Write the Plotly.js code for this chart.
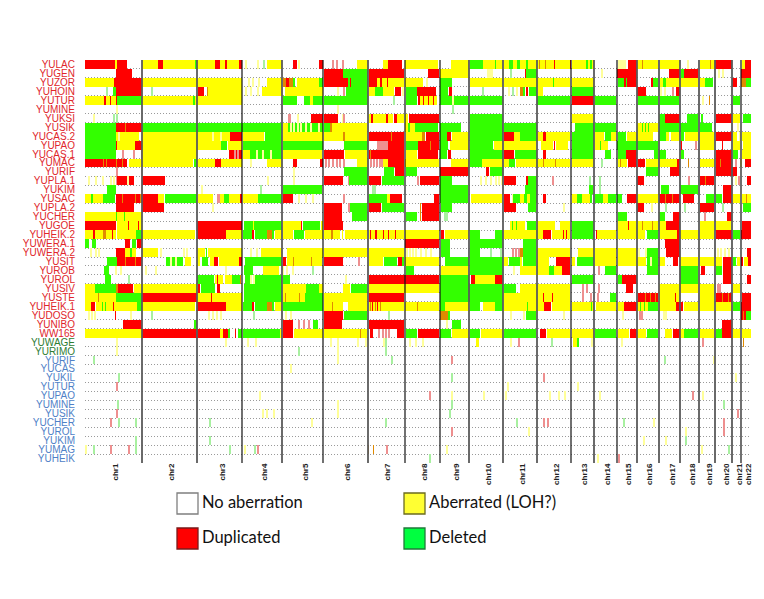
<!DOCTYPE html>
<html><head><meta charset="utf-8">
<script src="https://cdn.plot.ly/plotly-3.0.1.min.js"></script>
<style>html,body{margin:0;padding:0;background:#fff}</style></head>
<body><div id="chart" style="width:764px;height:599px"></div>
<script>
// Samples, top to bottom
const sampleNames = ["YULAC","YUGEN","YUZOR","YUHOIN","YUTUR","YUMINE","YUKSI","YUSIK","YUCAS.2","YUPAO","YUCAS.1","YUMAC","YURIF","YUPLA.1","YUKIM","YUSAC","YUPLA.2","YUCHER","YUGOE","YUHEIK.2","YUWERA.1","YUWERA.2","YUSIT","YUROB","YUROL","YUSIV","YUSTE","YUHEIK.1","YUDOSO","YUNIBO","WW165","YUWAGE","YURIMO","YURIF","YUCAS","YUKIL","YUTUR","YUPAO","YUMINE","YUSIK","YUCHER","YUROL","YUKIM","YUMAG","YUHEIK"];
const groupSizes = [31, 2, 12];
const groupColors = ["#E0262B", "#2E7D32", "#4F81C7"];
// Chromosomes, on a relative genome scale running from 85 to 751
const chrNames = ["chr1","chr2","chr3","chr4","chr5","chr6","chr7","chr8","chr9","chr10","chr11","chr12","chr13","chr14","chr15","chr16","chr17","chr18","chr19","chr20","chr21","chr22"];
const chrCenters = [115,171,222,264,305,347,387,424,456,488,522,556,584,607,628,649,672,692,709,726,739,748];
const chrEndsDark = [242,323,405,440,571,617,741];
const chrEndsGrey = [142,197,282,368,469,503,537,594,637,659,680,699,715,732];
// Called segments per sample: Y aberrated, R duplicated, G deleted, O mixed; lower case = faint narrow call
const calls = [
"R85-115 Y115-117 R117-127 Y142-158 R158-163 Y163-195 G195-197 Y197-215 R215-220 Y220-225 R225-227 Y227-239 R239-242 y245 y257 g263 Y267-282 R293-297 y298 R319-323 r332 r336 r342 Y357-368 Y383-388 R388-402 Y405-438 Y451-469 G470-483 Y483-503 G495 Y504-509 G509-513 Y513-517 G517-520 Y520-526 G526-528 Y528-537 Y537-570 O539 O545 R554 R570 Y572-594 G586-588 G590-592 y618 y620 y622 y624 R628-637 Y637-658 O642 Y660-680 y687 Y700-715 O710 R715-732 Y742-745 R745-751",
"R116-132 R324-343 G343-368 R369-404 R428-439 Y440-469 y487 y489 y491 g510 R525 G526-537 y601 R617-637 R669-680 G681-684 R684-698 y718 y722 R741-751",
"Y85-114 R114-142 Y142-242 y248 y252 y258 Y267-282 O283-286 R286-289 O289-293 G293-295 Y297-319 G319-323 R324-348 G348-368 R350 R369-377 Y377-380 R380-382 Y382-387 R387 Y388-404 Y405-423 y426 G440-452 Y470-503 Y504-570 G553 Y572-594 G618-624 R624-637 G626 R651-653 G653-658 Y660-680 G663-666 Y680-698 Y700-705 G705-713 R732-737 O741-746 G746-751",
"g106 G113-116 R116-142 g151 R198-204 O207 Y208-242 y245 y250 y257 Y262-282 Y285-323 y337 r343 G346-368 Y369-375 G375-383 Y383-394 R395-401 y402 G406-417 R417-436 G440-448 R449-452 g482 y508 g512 y516 O520-523 G523-525 R526-528 G529-537 Y538-543 G572-594 R637-646 y660 y664 r672 R676-680",
"Y85-104 R104-106 Y106-110 R110 Y111-116 R116 G117-142 Y142-193 G193-195 Y195-242 G283-297 G304-310 Y310-313 G313-323 G324-368 g393 G406-417 R418-420 Y420-437 R423 R428 R433 G440-469 y452 G470-503 G537-570 R572-594 G595-616 G638-658 G660-679 y702 O709 G733-740",
"y116 y337 g452",
"y93 g113 g116 r288 r289 y297 R311-323 R324-338 y342 r343 Y369-371 R371-373 Y373-386 R386-388 Y388-393 R394-397 Y397-404 Y405-408 R409-439 G470-503 Y572-593 G659-665 R665-680 G687-698 G701-703 R716-732 Y733-740 G743-751",
"G85-116 R116-142 O125 G142-282 Y283-288 G288-323 y290 y293 y297 y300 y305 y310 y318 G324-330 O330-332 Y332-336 Y336-367 Y405-408 G408-438 Y410-415 G440-461 G470-503 G504-537 G575-594 G595-616 Y637-652 G642 G645 G648 Y652-658 G659-679 G680-698 G700-712 y737",
"G85-116 Y116-139 y118 Y142-197 Y197-230 R230-242 y212 y220 Y243-264 G265-282 Y283-323 Y324-343 O343-345 Y345-367 R369-391 O391 R392-404 Y406-422 O422-425 R426-439 G440-447 R447-451 Y452-469 G470-503 R504-514 Y514-520 G520-537 Y537-543 R543-546 Y546-570 G572-594 Y595-604 G605-611 Y611-616 G618-626 Y627-637 Y637-653 G659-666 Y666-669 Y671-680 G681-684 Y685-698 Y700-714 R716-732 Y733-737 y739 Y742-751",
"G85-116 R116 Y117-135 R135-142 Y142-221 G221-227 Y228-242 G243-282 G283-323 G344-368 r377 r379 r381 r383 r385 r387 R388-404 G406-418 R418-439 O430 G440-448 Y450-469 G470-493 Y494-503 Y504-536 Y541-553 R554 Y556-568 G572-594 Y595-600 G600 Y601-608 G617-658 R681 r695 Y700-714 R722 Y733-740 Y743-751",
"G85-116 r122 r133 r141 Y142-197 R229-242 r234 r237 Y243-250 G250-282 y256 y262 y270 Y283-322 R324-344 Y345-367 R369-404 O370 Y406-417 R418-438 G440-447 R448-451 G470-503 R504-514 G515-537 R543-546 G572-594 G605-611 G618-626 R626-637 G654-658 G659-666 G681-684 R716-732 G733-738 Y742-751",
"R85-127 O103 O106 O116 O122 Y129-142 Y142-193 G194-197 Y197-215 R215-221 Y221-242 y250 Y267-282 R293-297 R320-323 r325 r328 r332 r336 r339 r343 Y357-368 r370 r373 r376 r379 r381 Y383-388 R388-404 Y405-439 Y451-469 G470-482 Y482-503 Y504-509 G509-515 Y516-537 Y537-570 O543 O555 Y572-594 g601 Y618-627 O620 R628-637 R638-645 Y646-658 Y659-677 R677-680 O688 Y700-714 R716-732 O720 r735 y740 R745-751",
"r116 y293 G344-368 G384-394 R395-404 G406-417 R440-469 R486-489 G490-503 G646-658 R670-680 R716-737",
"y88 y95 y102 y110 y113 r116 R117-134 y127 R142-165 y267 y293 R324-343 r348 G349-368 R369-381 G382-404 r417 R420-439 G440-452 y480 y485 y490 y495 y498 y501 R504-516 R526-528 G528-537 r552 g589 g599 R637-644 r688 R700-714 O705 y735 r738 R747-751",
"G107-116 y201 g260 G283-322 g372 g374 G440-468 G525-537 G589-593 g599 G661-669 G680-698 R723-732",
"Y85-91 G91-93 Y93-103 G103-115 R116-142 O122 O135 O140 R142-158 Y158-164 G165-197 Y198-213 r217 r219 Y220-224 G224-229 Y229-240 R240-242 Y243-258 G258-282 R283-293 y298 y305 y312 r343 G369-387 Y387-390 R390-402 R434-439 G440-468 Y471-502 R504-510 y512 G513-520 Y520-524 G524-527 Y527-530 G530-537 R543-546 Y572-577 G577-582 Y582-590 G590-592 G595-603 Y603-608 G608-616 G617-622 R627-637 Y637-658 R659-680 O665 O672 R683-694 G706-714 G716-722 R723-732 Y733-740 Y742-751 O746",
"R116-134 R142-164 y212 R324-342 r348 G350-367 R369-381 G382-404 O420 R422-439 G441-452 R504-516 G528-536 y563 R637-644 y651 g665 g684 R700-714 g722 G743-751",
"Y85-142 G116 G124 R324-342 G352-367 G406-417 O420 R422-439 g444 g446 G618-627 G659-665 R673-680 r704 R727-732",
"R85-116 Y117-142 R128 R138 R197-242 G244-282 Y253 Y283-302 R301 G303-320 Y321-323 R324-343 Y510-525 G512 G516 G527-536 Y537-555 Y560-570 G572-594 Y618-637 R628 Y637-658 O642 O652 Y659-666 R666-680 Y700-714 Y716-731 R742-751",
"Y85-93 R93-95 Y95-103 O103-106 Y106-112 R112 Y113-116 Y117-136 G136-142 Y142-195 R197-226 Y226-242 G243-252 R252-254 G255-267 O267-272 G272-274 Y275-282 Y283-293 G294-304 Y305-323 Y324-331 O331-333 Y333-340 Y342 Y345-367 Y369-404 R370 R375-377 R383 R388 R395 Y405-439 R441-444 Y445-469 G470-480 G495-503 Y504-537 Y537-543 R543-551 Y552-570 R563 R566 G572-594 R596 Y597-616 Y618-637 Y637-645 G647-658 Y660-677 R677-680 Y680-698 Y700-714 R716-732 G733-740 R741-751",
"G85-89 G92-96 R125-130 G132-136 R137-142 R405-439 G441-450 G470-503 G523-536 R665-680",
"y90 y95 y98 R116-125 Y125-130 G130-132 Y132-136 Y142-158 y160 y183 y186 Y197-205 G206 Y208-242 y250 y256 Y261-282 Y287-323 Y324-367 Y369-404 y406 y409 y412 y415 y420 y425 y430 G441-450 G470-480 g490 g500 r512 r515 r518 O520-523 G523-536 Y537-570 Y578-594 Y595-616 Y618-637 y638 y645 G647-658 R666-680 y717 y720 y724 y728 R747-751",
"G107-117 R117-142 O125 O135 G166-183 y170 y175 Y185-191 Y197-200 G202-208 Y210-214 R214-218 Y219-239 R239-242 G245-282 R283-286 Y287-322 O293 O311 R324-343 r358 Y369-383 G384-397 R398-402 G402-404 Y405-439 G445-469 G470-503 Y504-508 G509-520 Y520-522 G523-536 Y537-549 R556-570 Y572-575 G577-594 Y595-616 Y618-637 Y637-646 G647-658 y650 Y659-665 R673-678 Y680-698 Y700-714 Y716-722 R723-732 G733-736 Y737-740 R741-743 Y744-748 R748-751",
"G104-109 y115 y120 y145 y155 y225 G244-253 Y263-279 y282 y286 y292 g312 G406-414 Y441-468 G470-503 y513 Y520-536 Y537-549 G549-554 Y554-562 R562-570 r598 G605-616 G647-658 G680-698 R701-705 G716-722 R723-732",
"G105-111 g128 G197-214 O215 Y215-223 R217 Y225-232 G232-240 O240 y245 G245-250 y250 y253 G255-282 G283-290 y345 R369-439 G440-469 R471-475 Y475-495 R495-503 G572-594 G618-622 R622-637 G680-698 R723-732 R747-751",
"Y85-95 G95-116 O116-118 R118-133 Y134-197 R198-200 G201-215 R217-220 G244-282 Y283-306 G306-319 Y319-323 Y343-350 G351-367 Y369-439 G440-503 G504-516 Y520-570 r582 r586 r598 R626-633 Y659-698 Y700-714 r717 r719 Y733-740",
"Y85-116 O98 G116-142 R142-197 Y197-242 R211 G244-282 Y283-305 O285 O299 G305-323 Y324-367 R369-404 G440-503 Y504-570 R543 R552 r582 r590 r597 G610-616 R638-658 O645 O650 O655 Y659-680 R675 Y700-714 R716-732 O722 O728 R742-751",
"Y85-91 R91-95 Y96-116 G102 G105 R113 Y116-138 G137-142 Y142-195 R197-226 Y226-242 G243-252 R252-254 G255-267 O267-272 G272-274 Y275-282 G283-323 Y324-343 O332 Y348-367 Y369-404 O370 R372 O375 R377 O380 Y405-439 O417 G440-445 Y445-469 G470-480 Y483-495 G495-503 Y504-537 G527 Y537-544 R544-551 Y552-570 Y572-594 G591 Y596-616 Y618-624 R624-637 Y637-648 G640 G644 G648-658 Y659-676 R676-683 Y684-698 Y700-714 Y716-732 G733-740 R741-751",
"y88 y91 y94 R115 y130 g151 y208 y212 y216 y220 g253 y285 y290 R324-343 G344-367 g388 O440-448 G448-450 y510 y523 G526-536 y563 y622 r639 r641 y663 y665 R741-746 G746-751 O743",
"R123-142 G194-197 R283-293 r298 r303 r308 G313-318 R324-342 R369-404 y446 G452-461 R722-732",
"Y85-142 R142-220 Y220-223 R223-228 G228-230 R235 G238-242 G243-280 Y280-282 R283-293 Y294-323 Y324-367 O360 R370-373 r378 r382 r385 r388 R397-404 G406-417 R418-439 G440-451 Y452-469 G470-480 Y481-503 G504-536 R540-546 Y547-570 Y572-594 G595-616 Y618-629 R630-637 Y637-646 G647-658 Y665-672 R673-680 Y680-684 G684-698 Y700-714 G716-722 R722-732 Y733-740 Y742-751",
"y116 y225 y247 y255 y330 y337 y357 y365 y383 g385 y409 y415 y422 Y476-479 y510 r518 g551 Y573-577 G577-579 y591 y621 r702 O743",
"y116 g298 y337 g385",
"g93 y337 g391 r451 g664 y713",
"y290",
"g118 g451 r543 y735",
"r116 y507 y577",
"y259 r429 y451 y483 y505 y549 y558 y564 y599 r692 y702",
"g117 y337 g451 g723",
"r116 y262 y266 y273 y337 g449 r737",
"r110 g118 g135 g209 y311 g385 g516 r543 r547 g623 y653 r723",
"r451 y528 y685 r723",
"g135 g209 y643 y665 g685",
"y85 g93 r110 r128 g135 g229 y244 g254 r257 O368 O373 r386 y446 y701 g728",
"g429 y597 r618"
];
const stateCodes = ["Y","R","G","y","r","g","O"];
const stateColors = ["#FFFF00","#FF0000","#33FF00","#FFFF99","#EE8F8F","#A8F0A0","#E08A00"];
// Legend
const legendLabels = ["No aberration","Aberrated (LOH?)","Duplicated","Deleted"];
const legendColors = ["#FFFFFF","#FFFF33","#FF0000","#00FF40"];
const legendBorders = ["#7F7F7F","#6B6B20","#7A1A1A","#1F7A3A"];
const legendColumn = [177,404,177,404];
const legendRow = [493,493,528,528];

const GENOME_START = 85, GENOME_END = 751;
const binEdges = [];
for (let p = GENOME_START; p <= GENOME_END; p++) binEdges.push(p);

const z = calls.map(row => {
  const cells = new Array(GENOME_END - GENOME_START).fill(null);
  row.trim().split(/\s+/).forEach(tok => {
    const state = stateCodes.indexOf(tok[0]) + 1;
    const parts = tok.slice(1).split("-").map(Number);
    const faint = tok[0] === tok[0].toLowerCase();
    const from = parts[0], to = parts.length > 1 ? parts[1] : parts[0] + (faint ? 2 : 1);
    for (let p = from; p < to; p++) {
      if (p >= GENOME_START && p < GENOME_END) cells[p - GENOME_START] = state;
    }
  });
  return cells;
});

const colorscale = [];
stateColors.forEach((c, i) => {
  colorscale.push([i / stateColors.length, c]);
  colorscale.push([(i + 1) / stateColors.length, c]);
});

function chrLine(ends, color, width) {
  const x = [], y = [];
  ends.forEach(e => { x.push(e, e, null); y.push(-0.5, sampleNames.length - 0.5, null); });
  return {type: "scatter", mode: "lines", x, y, line: {color, width}, hoverinfo: "skip", showlegend: false};
}

const labelColors = [];
groupSizes.forEach((n, g) => { for (let i = 0; i < n; i++) labelColors.push(groupColors[g]); });
const rowIdx = sampleNames.map((_, i) => i);
const ticktext = sampleNames.map((s, i) => `<span style="color:${labelColors[i]}">${s}</span>`);
const rowBounds = [];
for (let i = 0; i < sampleNames.length - 1; i++) rowBounds.push(i + 0.5);

const W = 764, H = 599, L = 85, R = 13, T = 60, B = 136;
const pw = W - L - R, ph = H - T - B;
const toX = px => (px - L) / pw;
const toY = py => (H - B - py) / ph;
const shapes = [], annotations = [];
legendLabels.forEach((t, i) => {
  const x = legendColumn[i], y = legendRow[i];
  shapes.push({type: "rect", xref: "paper", yref: "paper", x0: toX(x), x1: toX(x + 21), y0: toY(y), y1: toY(y + 21),
    fillcolor: legendColors[i], line: {color: legendBorders[i], width: 1.3}});
  annotations.push({xref: "paper", yref: "paper", x: toX(x + 23), y: toY(y + 8.5), xanchor: "left", yanchor: "middle",
    text: t, showarrow: false, font: {family: "Lato, Carlito, sans-serif", size: 16.5, color: "#111"}});
});

Plotly.newPlot("chart", [
  {type: "heatmap", x: binEdges, y: rowIdx, z, zmin: 0.5, zmax: stateColors.length + 0.5, colorscale, showscale: false, zsmooth: false, hoverongaps: false, xgap: 0, ygap: 0},
  chrLine(chrEndsGrey, "#5a5a5a", 1.8),
  chrLine(chrEndsDark, "#111111", 1.2)
], {
  width: W, height: H, autosize: false,
  margin: {l: L, r: R, t: T, b: B, pad: 0},
  paper_bgcolor: "#fff", plot_bgcolor: "#fff", showlegend: false,
  xaxis: {range: [GENOME_START, GENOME_END], tickmode: "array", tickvals: chrCenters, ticktext: chrNames, tickangle: -90,
    ticks: "", ticklabelstandoff: -2, showgrid: false, zeroline: false, showline: false,
    tickfont: {family: "Liberation Sans, Arial, sans-serif", size: 8, color: "#222", weight: "bold"}},
  yaxis: {range: [sampleNames.length - 0.5, -0.5], tickmode: "array", tickvals: rowIdx, ticktext, ticks: "outside", ticklen: 7, tickcolor: "rgba(0,0,0,0)",
    showgrid: false, zeroline: false, showline: false,
    tickfont: {family: "Liberation Sans, Arial, sans-serif", size: 10},
    minor: {tickmode: "array", tickvals: rowBounds, showgrid: true, gridcolor: "#9a9a9a", griddash: "1px,2px", gridwidth: 1, ticks: ""}},
  shapes, annotations
}, {staticPlot: true, displayModeBar: false});
</script></body></html>
